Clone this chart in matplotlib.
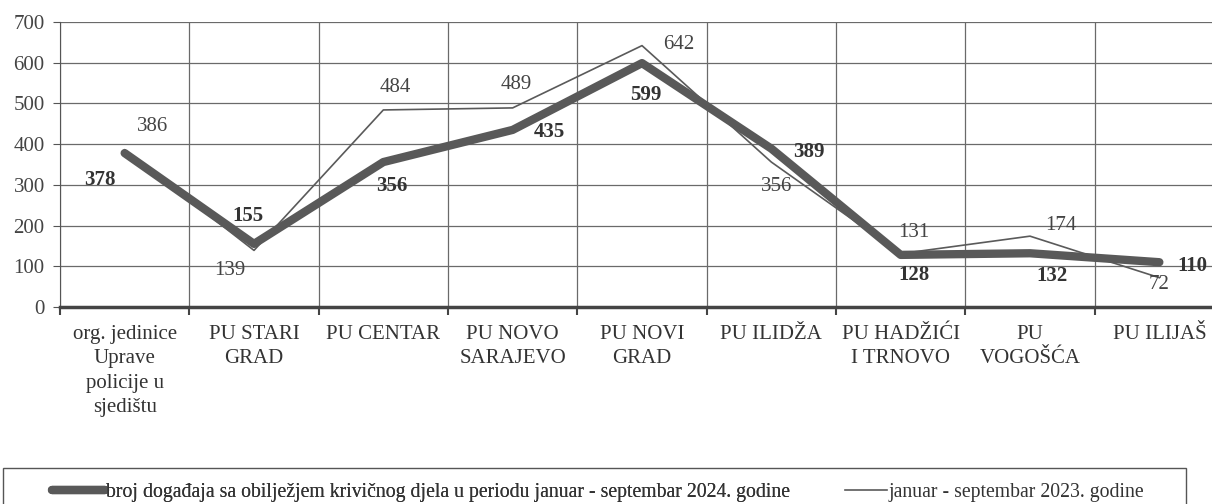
import matplotlib
matplotlib.use('Agg')
import matplotlib.pyplot as plt
from matplotlib.patches import Rectangle

plt.rcParams['font.family'] = ['Liberation Serif', 'DejaVu Serif']

# podaci
kategorije = ['org. jedinice\nUprave\npolicije u\nsjedištu', 'PU STARI\nGRAD', 'PU CENTAR',
              'PU NOVO\nSARAJEVO', 'PU NOVI\nGRAD', 'PU ILIDŽA', 'PU HADŽIĆI\nI TRNOVO',
              'PU\nVOGOŠĆA', 'PU ILIJAŠ']
god_2024 = [378, 155, 356, 435, 599, 389, 128, 132, 110]
god_2023 = [386, 139, 484, 489, 642, 356, 131, 174, 72]
naziv_2024 = 'broj događaja sa obilježjem krivičnog djela u periodu januar - septembar 2024. godine'
naziv_2023 = 'januar - septembar 2023. godine'

# pomaci oznaka (px)
pom_2024 = [(-25, -27), (-6, 28), (8, -24), (37, -2), (4, -32), (38, -3), (13, -20), (22, -23), (33, -4)]
pom_2023 = [(28, 23), (-24, -20), (12, 22), (4, 23), (37, 1), (5, -24), (13, 21), (31, 11), (0, -7)]

W, H = 1212, 504
fig = plt.figure(figsize=(W / 100, H / 100), dpi=100)
ax = fig.add_axes([60 / W, 1 - 307 / H, 1164 / W, 285 / H])

x = range(len(kategorije))
l23, = ax.plot(x, god_2023, color='#5a5a5a', lw=1.2, zorder=3)
l24, = ax.plot(x, god_2024, color='#595959', lw=6, solid_capstyle='round',
               solid_joinstyle='round', zorder=2)

for i, v in enumerate(god_2024):
    ax.annotate(str(v), (i, v), xytext=pom_2024[i], textcoords='offset pixels',
                ha='center', va='center', fontsize=15, fontweight='bold', color='#333333')
for i, v in enumerate(god_2023):
    ax.annotate(str(v), (i, v), xytext=pom_2023[i], textcoords='offset pixels',
                ha='center', va='center', fontsize=15, color='#444444')

ax.set_xlim(-0.5, len(kategorije) - 0.5)
ax.set_ylim(0, 700)
ax.set_yticks(range(0, 701, 100))
ax.tick_params(axis='y', labelsize=15, colors='#555555', labelcolor='#444444', length=5, pad=6)

ax.set_xticks([i + 0.5 for i in range(-1, len(kategorije))])
ax.set_xticklabels([])
ax.set_xticks(list(x), minor=True)
ax.set_xticklabels(kategorije, minor=True, fontsize=15, color='#333333', linespacing=1.38)
ax.tick_params(axis='x', which='minor', length=0, pad=13)
ax.tick_params(axis='x', which='major', length=6, width=1.5, direction='out', colors='#444444')

ax.grid(True, which='major', color='#6a6a6a', lw=0.9)
ax.set_axisbelow(True)
for s in ['top', 'right']:
    ax.spines[s].set_visible(False)
ax.spines['left'].set_color('#555555')
ax.spines['bottom'].set_color('#444444')
ax.spines['bottom'].set_linewidth(2.5)

# legenda
y_leg = 1 - 492 / H
leg1 = fig.legend([l24], [naziv_2024], loc='center left', bbox_to_anchor=(52 / W, y_leg),
                  frameon=False, fontsize=14.2, handlelength=2.7, handletextpad=0.05,
                  borderpad=0, borderaxespad=0)
fig.legend([l23], [naziv_2023], loc='center left', bbox_to_anchor=(845 / W, y_leg),
           frameon=False, fontsize=14.2, handlelength=2.15, handletextpad=0.05,
           borderpad=0, borderaxespad=0)
fig.add_artist(leg1)
for t in fig.legends:
    for tx in t.get_texts():
        tx.set_color('#333333')
fig.patches.append(Rectangle((3 / W, -0.1), 1183 / W, 0.1 + 1 - 468 / H, transform=fig.transFigure,
                             fill=False, edgecolor='#555555', lw=1))

fig.savefig('out.png', dpi=100)
